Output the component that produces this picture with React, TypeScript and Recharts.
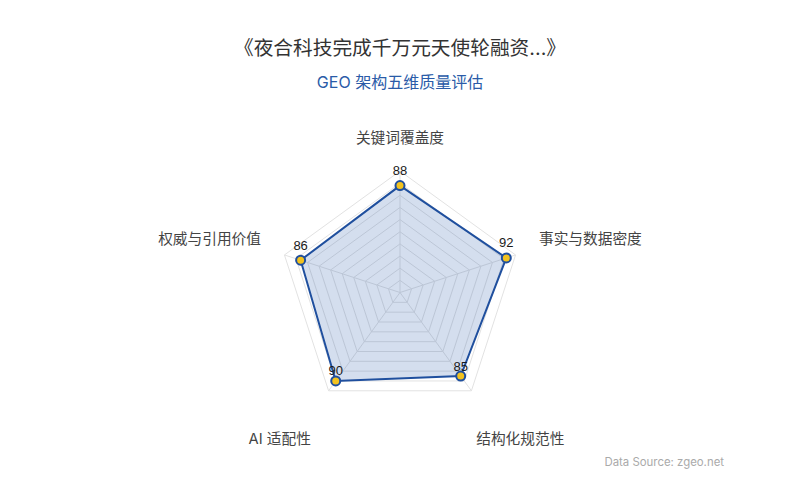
import React from "react";
import {
  RadarChart,
  Radar,
  PolarGrid,
  PolarAngleAxis,
  PolarRadiusAxis,
} from "recharts";

const dimensions = ["关键词覆盖度", "事实与数据密度", "结构化规范性", "AI 适配性", "权威与引用价值"];
const scores = [88, 92, 85, 90, 86];

const title = "《夜合科技完成千万元天使轮融资...》";
const subtitle = "GEO 架构五维质量评估";
const source = "Data Source: zgeo.net";

const data = dimensions.map((name, i) => ({ name, score: scores[i] }));

const CX = 400;
const CY = 292.5;
const R = 121.5;
const FONT = "Inter, 'Noto Sans CJK SC', 'Noto Sans', sans-serif";

function AxisName(props: any) {
  const { payload, index } = props;
  const angle = ((payload?.coordinate ?? 90 - index * 72) * Math.PI) / 180;
  const ux = Math.cos(angle);
  const uy = -Math.sin(angle);
  let x = CX;
  let y = CY - R * 1.27;
  let anchor: "start" | "middle" | "end" = "middle";
  if (uy > 0.5) {
    // lower axes
    x = CX + Math.sign(ux) * R * 0.99;
    y = CY + R * 1.205;
  } else if (Math.abs(ux) > 0.3) {
    // side axes
    x = CX + Math.sign(ux) * R * 1.144;
    y = CY - R * 0.44;
    anchor = ux > 0 ? "start" : "end";
  }
  return (
    <text
      x={x}
      y={y}
      textAnchor={anchor}
      dominantBaseline="central"
      fontSize={14.7}
      fontFamily={FONT}
      fill="#444"
    >
      {payload.value}
    </text>
  );
}

function ValueLabel(props: any) {
  const { x, y, value, cy } = props;
  const below = y > (cy ?? CY) + 10;
  return (
    <text
      x={x}
      y={y - (below ? 10 : 15)}
      textAnchor="middle"
      dominantBaseline="central"
      fontSize={13}
      fontFamily="'Liberation Sans', Arial, sans-serif"
      fill="#1a1a1a"
    >
      {value}
    </text>
  );
}

export default function App() {
  return (
    <div style={{ position: "relative", width: 800, height: 500, background: "#fff", fontFamily: FONT }}>
      <style>{`body{margin:0}`}</style>
      <div
        style={{
          position: "absolute",
          top: 35,
          left: 0,
          width: 800,
          textAlign: "center",
          fontSize: 19.7,
          lineHeight: "26px",
          color: "#333",
        }}
      >
        {title}
      </div>
      <div
        style={{
          position: "absolute",
          top: 70,
          left: 0,
          width: 800,
          textAlign: "center",
          fontSize: 16,
          lineHeight: "24px",
          color: "#2a5ba8",
        }}
      >
        {subtitle}
      </div>
      <RadarChart
        width={800}
        height={500}
        data={data}
        cx={CX}
        cy={CY}
        outerRadius={R}
        margin={{ top: 0, right: 0, bottom: 0, left: 0 }}
      >
        <PolarGrid gridType="polygon" stroke="#e2e2e2" />
        <PolarAngleAxis dataKey="name" tick={<AxisName />} tickLine={false} axisLine={false} />
        <PolarRadiusAxis domain={[0, 100]} tickCount={11} tick={false} axisLine={false} />
        <Radar
          dataKey="score"
          stroke="#1f4f9e"
          strokeWidth={2}
          fill="#2a5caa"
          fillOpacity={0.2}
          dot={{ r: 4.5, fill: "#f2c21f", stroke: "#1f4f9e", strokeWidth: 2, fillOpacity: 1 }}
          label={<ValueLabel />}
          isAnimationActive={false}
        />
      </RadarChart>
      <div
        style={{
          position: "absolute",
          top: 453,
          right: 76,
          fontSize: 11.4,
          lineHeight: "18px",
          color: "#aaa",
        }}
      >
        {source}
      </div>
    </div>
  );
}
